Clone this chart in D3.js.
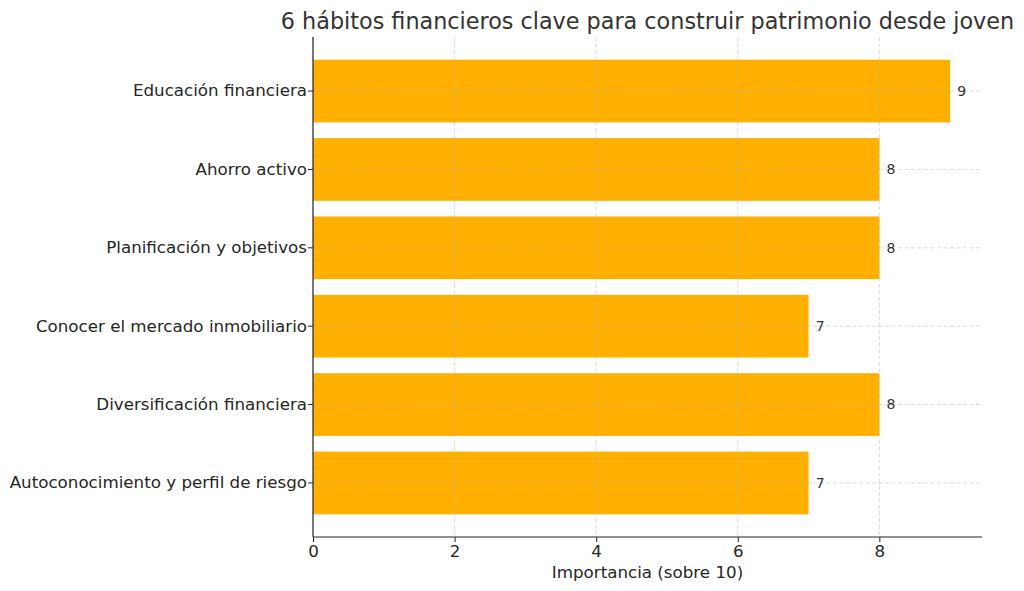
<html>
<head>
<meta charset="utf-8">
<script src="https://d3js.org/d3.v7.min.js"></script>
<style>
body { margin: 0; background: #fff; }
text { font-family: "DejaVu Sans", sans-serif; fill: #262626; }
</style>
</head>
<body>
<svg width="1024" height="591"></svg>
<script>
const categories = ["Educación financiera", "Ahorro activo", "Planificación y objetivos",
  "Conocer el mercado inmobiliario", "Diversificación financiera", "Autoconocimiento y perfil de riesgo"];
const values = [9, 8, 8, 7, 8, 7];
const xTicks = [0, 2, 4, 6, 8];
const titleText = "6 hábitos financieros clave para construir patrimonio desde joven";
const xLabel = "Importancia (sobre 10)";

const plotL = 313, plotR = 982, plotT = 37, plotB = 537;
const svg = d3.select("svg");

const xs = d3.scaleLinear().domain([0, 9.45]).range([plotL, plotR]);
const ys = d3.scaleBand().domain(categories).range([plotT, plotB])
  .paddingInner(0.2).paddingOuter(0.29);

// bars
svg.append("g").selectAll("rect")
  .data(values)
  .enter()
  .append("rect")
    .attr("x", xs(0))
    .attr("y", (d, i) => ys(categories[i]))
    .attr("width", d => xs(d) - xs(0))
    .attr("height", ys.bandwidth())
    .attr("fill", "#ffb000");

// grid (drawn over bars)
const grid = svg.append("g").attr("stroke", "#b0b0b0").attr("stroke-opacity", 0.6)
  .attr("stroke-dasharray", "4,2.5").attr("stroke-width", 0.8);
grid.selectAll(".vx").data(xTicks).enter().append("line")
  .attr("x1", d => xs(d)).attr("x2", d => xs(d)).attr("y1", plotT).attr("y2", plotB);
grid.selectAll(".hy").data(categories).enter().append("line")
  .attr("x1", plotL).attr("x2", plotR)
  .attr("y1", d => ys(d) + ys.bandwidth() / 2).attr("y2", d => ys(d) + ys.bandwidth() / 2);

// value labels
svg.append("g").selectAll("text")
  .data(values)
  .enter()
  .append("text")
    .attr("x", d => xs(d + 0.1))
    .attr("y", (d, i) => ys(categories[i]) + ys.bandwidth() / 2)
    .attr("dy", "0.35em")
    .style("font-size", "14px")
    .style("fill", "#333")
    .text(d => d);

// axes
const xAxis = svg.append("g").attr("transform", `translate(0,${plotB})`)
  .call(d3.axisBottom(xs).tickValues(xTicks).tickFormat(d3.format("d")).tickSizeOuter(0).tickSize(5).tickPadding(3));
const yAxis = svg.append("g").attr("transform", `translate(${plotL},0)`)
  .call(d3.axisLeft(ys).tickSizeOuter(0).tickSize(5).tickPadding(1));
[xAxis, yAxis].forEach(a => {
  a.select(".domain").attr("stroke", "#262626").attr("stroke-width", 1.2);
  a.selectAll(".tick line").attr("stroke", "#262626").attr("stroke-width", 1);
  a.selectAll(".tick text").style("font-size", "16.7px").style("font-family", "DejaVu Sans").attr("fill", "#262626");
});
xAxis.select(".domain").attr("d", `M${plotL},0H${plotR}`);
yAxis.select(".domain").attr("d", `M0,${plotT}V${plotB}`);

svg.append("text")
  .attr("x", (plotL + plotR) / 2).attr("y", 578)
  .style("text-anchor", "middle").style("font-size", "16.7px")
  .text(xLabel);

svg.append("text")
  .attr("x", (plotL + plotR) / 2).attr("y", 29)
  .style("text-anchor", "middle").style("font-size", "22.3px")
  .style("fill", "#333")
  .text(titleText);
</script>
</body>
</html>
